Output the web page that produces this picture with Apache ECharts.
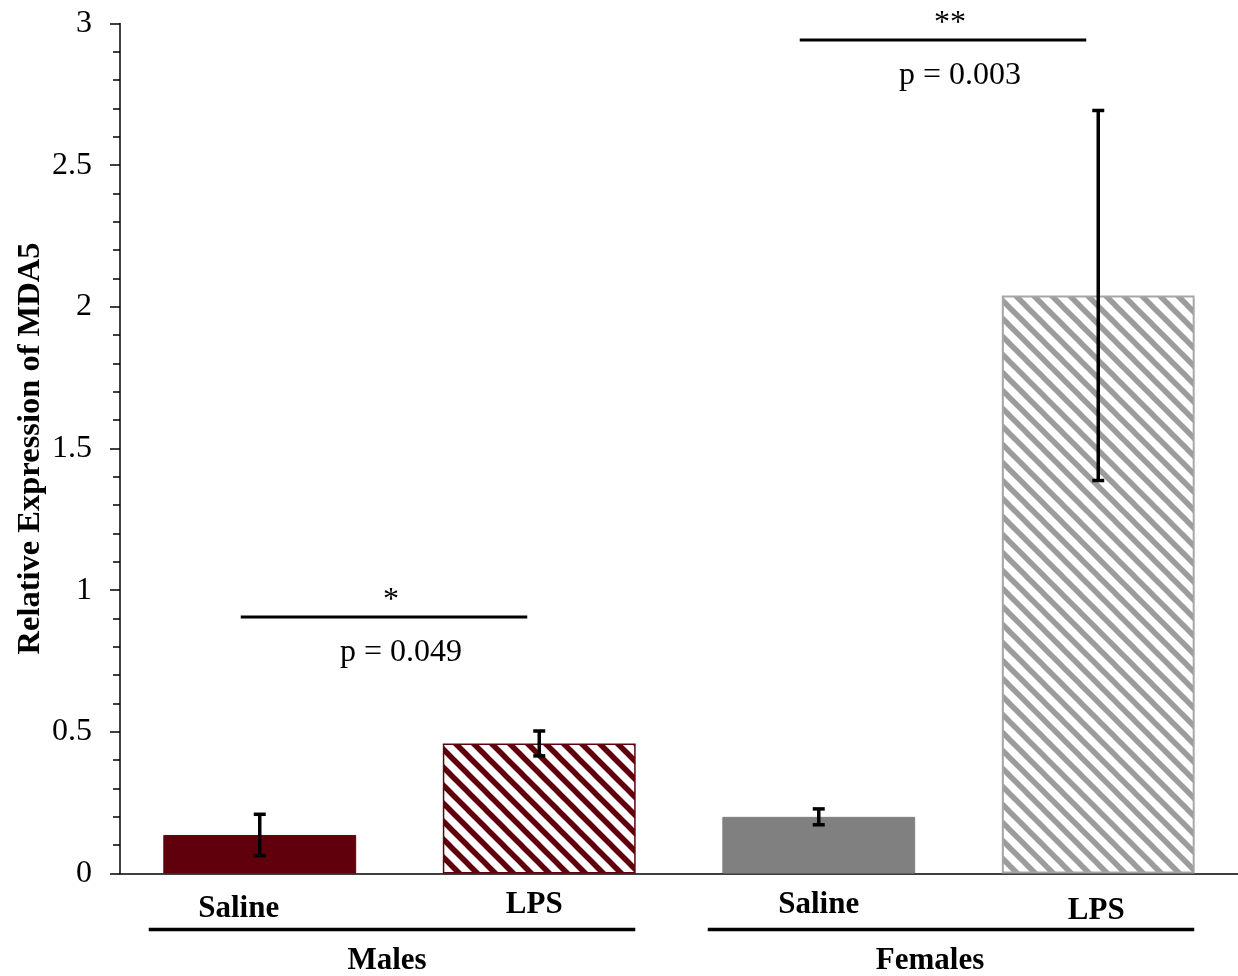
<!DOCTYPE html>
<html>
<head>
<meta charset="utf-8">
<script src="https://cdn.jsdelivr.net/npm/echarts@6/dist/echarts.min.js"></script>
<style>
html,body{margin:0;padding:0;background:#fff;}
#chart{width:1238px;height:976px;}
</style>
</head>
<body>
<div id="chart"></div>
<script>
// ---- data ----
const categories = ['Saline', 'LPS', 'Saline', 'LPS'];
const groups = ['Males', 'Females'];
const means = [0.136, 0.459, 0.200, 2.040];
const errors = [0.073, 0.044, 0.028, 0.653];
const yTickLabels = ['0', '0.5', '1', '1.5', '2', '2.5', '3'];
const sigPairs = [[0, 1], [2, 3]];
const sigLevels = [0.905, 2.942];
const sigStars = ['*', '**'];
const sigPValues = ['p = 0.049', 'p = 0.003'];

// ---- styles ----
const FONT = '"Liberation Serif", "Times New Roman", serif';
const DARK_RED = '#5f000c';
const GREY = '#808080';
const STRIPE_GREY = '#9c9c9c';

function stripes(color) {
  const s = 18;
  const c = document.createElement('canvas');
  c.width = s; c.height = s;
  const ctx = c.getContext('2d');
  ctx.fillStyle = '#ffffff';
  ctx.fillRect(0, 0, s, s);
  ctx.strokeStyle = color;
  ctx.lineWidth = 5.5;
  for (let k = -1; k <= 1; k++) {
    ctx.beginPath();
    ctx.moveTo(-4, k * s - 4);
    ctx.lineTo(s + 4, k * s + s + 4);
    ctx.stroke();
  }
  return { image: c, repeat: 'repeat' };
}

const barStyles = [
  { color: DARK_RED, borderColor: DARK_RED, borderWidth: 1 },
  { color: stripes(DARK_RED), borderColor: DARK_RED, borderWidth: 1.5 },
  { color: GREY, borderColor: GREY, borderWidth: 1 },
  { color: stripes(STRIPE_GREY), borderColor: '#a6a6a6', borderWidth: 2 }
];
const labelShift = [
  { padding: [5, 42, 0, 0] },
  { padding: [1, 10, 0, 0] },
  { padding: [1, 0, 0, 0] },
  { padding: [7, 4, 0, 0] }
];

const barData = means.map((v, i) => ({ value: v, itemStyle: barStyles[i] }));
const errData = means.map((v, i) => [i, v - errors[i], v + errors[i]]);
const sigData = sigPairs.map((p, i) => [p[0], p[1], sigLevels[i], i]);
const groupData = groups.map((g, i) => [2 * i, 2 * i + 1, i]);

const chart = echarts.init(document.getElementById('chart'), null, { renderer: 'canvas' });
chart.setOption({
  backgroundColor: '#ffffff',
  animation: false,
  grid: { left: 120, right: 0, top: 23.5, bottom: 102.5 },
  xAxis: {
    type: 'category',
    data: categories.map((c, i) => ({ value: c, textStyle: labelShift[i] })),
    axisLine: { lineStyle: { color: '#000', width: 1.5 } },
    axisTick: { show: false },
    axisLabel: {
      interval: 0,
      margin: 15,
      fontFamily: FONT,
      fontWeight: 'bold',
      fontSize: 31,
      color: '#000'
    }
  },
  yAxis: {
    type: 'value',
    min: 0,
    max: 3,
    interval: 0.5,
    name: 'Relative Expression of MDA5',
    nameLocation: 'middle',
    nameGap: 73,
    nameMoveOverlap: false,
    nameTextStyle: { fontFamily: FONT, fontWeight: 'bold', fontSize: 32.5, color: '#000' },
    axisLine: { show: true, lineStyle: { color: '#000', width: 1.5 } },
    axisTick: { show: true, length: 10, lineStyle: { color: '#000', width: 1.5 } },
    minorTick: { show: true, splitNumber: 5, length: 7, lineStyle: { color: '#000', width: 1.5 } },
    splitLine: { show: false },
    axisLabel: {
      margin: 28,
      fontFamily: FONT,
      fontSize: 32,
      color: '#000',
      formatter: (v) => {
        const idx = Math.round(v / 0.5);
        return yTickLabels[idx] !== undefined ? yTickLabels[idx] : '';
      }
    }
  },
  series: [
    {
      type: 'bar',
      data: barData,
      barWidth: '69%'
    },
    {
      type: 'custom',
      data: errData,
      z: 5,
      renderItem: (params, api) => {
        const x = api.value(0);
        const lo = api.coord([x, api.value(1)]);
        const hi = api.coord([x, api.value(2)]);
        const cap = 6;
        const st = { stroke: '#000', lineWidth: 3.5 };
        return {
          type: 'group',
          children: [
            { type: 'line', shape: { x1: lo[0], y1: lo[1], x2: hi[0], y2: hi[1] }, style: st },
            { type: 'line', shape: { x1: hi[0] - cap, y1: hi[1], x2: hi[0] + cap, y2: hi[1] }, style: st },
            { type: 'line', shape: { x1: lo[0] - cap, y1: lo[1], x2: lo[0] + cap, y2: lo[1] }, style: st }
          ]
        };
      }
    },
    {
      type: 'custom',
      data: sigData,
      z: 5,
      clip: false,
      renderItem: (params, api) => {
        const a = api.coord([api.value(0), api.value(2)]);
        const b = api.coord([api.value(1), api.value(2)]);
        const i = api.value(3);
        const x1 = a[0] - 19, x2 = b[0] - 12, y = a[1];
        const mid = (x1 + x2) / 2;
        return {
          type: 'group',
          children: [
            { type: 'line', shape: { x1: x1, y1: y, x2: x2, y2: y }, style: { stroke: '#000', lineWidth: 3 } },
            { type: 'text', style: { text: sigStars[i], x: mid + 7, y: y - 16, align: 'center', verticalAlign: 'middle', font: '32px ' + FONT, fill: '#000' } },
            { type: 'text', style: { text: sigPValues[i], x: mid + 17, y: y + 36, align: 'center', verticalAlign: 'middle', font: '32px ' + FONT, fill: '#000' } }
          ]
        };
      }
    },
    {
      type: 'custom',
      data: groupData,
      z: 5,
      clip: false,
      renderItem: (params, api) => {
        const a = api.coord([api.value(0), 0]);
        const b = api.coord([api.value(1), 0]);
        const i = api.value(2);
        const x1 = a[0] - 111, x2 = b[0] + 96;
        const y = a[1] + 56;
        return {
          type: 'group',
          children: [
            { type: 'line', shape: { x1: x1, y1: y, x2: x2, y2: y }, style: { stroke: '#000', lineWidth: 3.5 } },
            { type: 'text', style: { text: groups[i], x: (x1 + x2) / 2 - 5 - 16 * i, y: y + 31, align: 'center', verticalAlign: 'middle', font: 'bold 31px ' + FONT, fill: '#000' } }
          ]
        };
      }
    }
  ]
});
</script>
</body>
</html>
